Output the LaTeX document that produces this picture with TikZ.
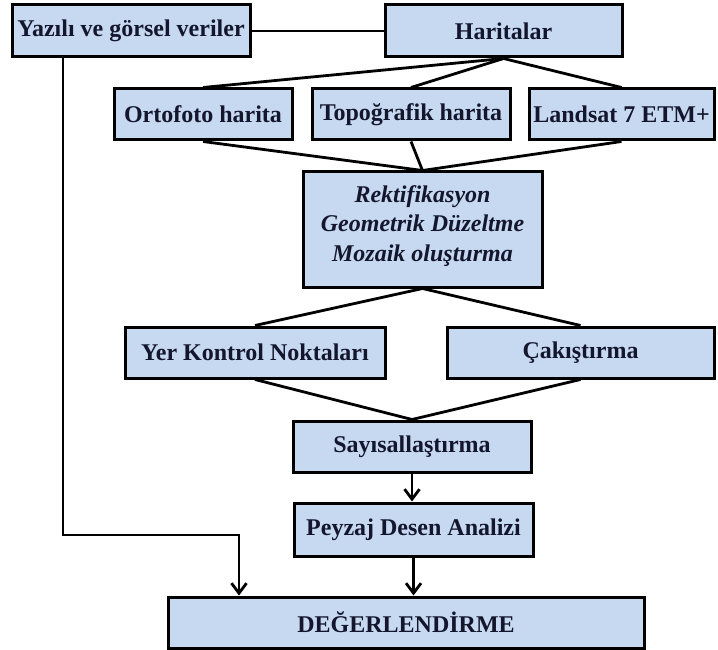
\documentclass[tikz,border=0pt]{standalone}
\usepackage{fontspec}
\setmainfont{Liberation Serif}
\usepackage{tikz}
\usetikzlibrary{arrows.meta,positioning}
\definecolor{boxfill}{RGB}{198,217,241}
\definecolor{ink}{RGB}{20,22,45}
\tikzstyle{stage} = [
    rectangle,
    draw=black,
    line width=3pt,
    fill=boxfill,
    inner sep=0pt,
    text=ink,
    align=center,
    font=\fontsize{24}{29.5}\selectfont\bfseries
]
\tikzstyle{link} = [
    line width=2.8pt,
    draw=black
]
\tikzstyle{arrow} = [
    link,
    -{Straight Barb[length=10pt,width=15pt]}
]

\begin{document}
\begin{tikzpicture}[x=1pt, y=-1pt]
    \useasboundingbox (0,0) rectangle (718,650);
    % top row
    \node[stage, minimum width=238pt, minimum height=52pt] (yazili) at (131,31) {Yazılı ve görsel veriler};
    \node[stage, minimum width=237pt, minimum height=52pt] (haritalar) at (503.5,31) {Haritalar};
    % map sources
    \node[stage, minimum width=178pt, minimum height=51pt] (ortofoto) at (203,114.5) {Ortofoto harita};
    \node[stage, minimum width=198pt, minimum height=51pt] (topo) at (411,114.5) {Topoğrafik harita};
    \node[stage, minimum width=185pt, minimum height=51pt] (landsat) at (621.5,114.5) {Landsat 7 ETM+};
    \node[stage, minimum width=239pt, minimum height=115pt,
          font=\fontsize{24}{29.5}\selectfont\bfseries\itshape] (rekt) at (422.5,229.5)
          {Rektifikasyon\\Geometrik Düzeltme\\Mozaik oluşturma\\[-17pt]\mbox{}};
    \node[stage, minimum width=260pt, minimum height=51pt] (yer) at (255,352.5) {Yer Kontrol Noktaları};
    \node[stage, minimum width=267pt, minimum height=51pt] (cakis) at (580.5,352.5) {Çakıştırma};
    \node[stage, minimum width=238pt, minimum height=51pt] (sayisal) at (412,446.5) {Sayısallaştırma};
    \node[stage, minimum width=239pt, minimum height=53pt] (peyzaj) at (413.5,529.5) {Peyzaj Desen Analizi};
    \node[stage, minimum width=476pt, minimum height=51pt] (deger) at (406,622.5) {DEĞERLENDİRME};
    \coordinate (turn) at (239,535);

    \draw[link] (yazili) -- (haritalar);
    \foreach \n in {ortofoto,topo,landsat} {
        \draw[link] (haritalar.south) -- (\n.north);
        \draw[link] (\n.south) -- (rekt.north);
    }
    \draw[link] (rekt.south) -- (yer.north);
    \draw[link] (rekt.south) -- (cakis.north);
    \draw[link] (yer.south) -- (sayisal.north);
    \draw[link] (cakis.south) -- (sayisal.north);
    \draw[arrow] (sayisal.south) -- (sayisal.south |- peyzaj.north);
    \draw[arrow] (peyzaj.south) -- (peyzaj.south |- deger.north);
    \draw[arrow] ([xshift=-68pt]yazili.south) |- (turn) -- (turn |- deger.north);
\end{tikzpicture}
\end{document}
